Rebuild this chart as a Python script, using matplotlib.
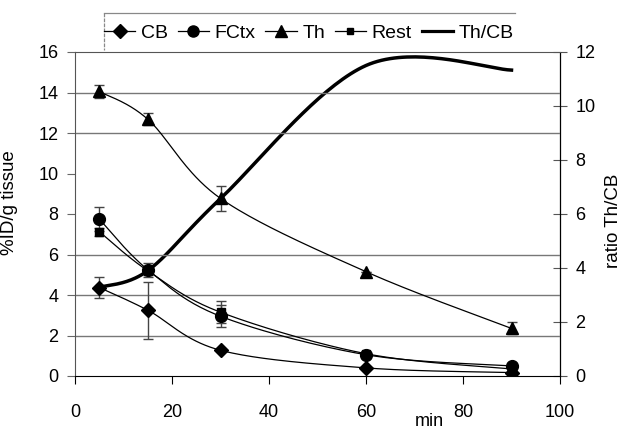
import numpy as np
import matplotlib
matplotlib.use("Agg")
import matplotlib.pyplot as plt
from matplotlib.lines import Line2D

plt.rcParams['font.family'] = ['Liberation Sans', 'DejaVu Sans']

# ---- data ----
minutes = [5, 15, 30, 60, 90]
cb = [4.37, 3.25, 1.27, 0.40, 0.17]
cb_err = [0.5, 1.4, 0.0, 0.0, 0.0]
fctx = [7.75, 5.25, 2.95, 1.05, 0.50]
fctx_err = [0.6, 0.35, 0.55, 0.0, 0.0]
th = [14.05, 12.68, 8.77, 5.15, 2.35]
th_err = [0.3, 0.3, 0.6, 0.0, 0.3]
rest = [7.13, 5.20, 3.15, 1.10, 0.35]
rest_err = [0.2, 0.2, 0.55, 0.0, 0.0]
ratio = [3.28, 3.90, 6.57, 11.50, 11.33]

series_names = ['CB', 'FCtx', 'Th', 'Rest', 'Th/CB']
x_ticks = [0, 20, 40, 60, 80, 100]
y_ticks = [0, 2, 4, 6, 8, 10, 12, 14, 16]
y2_ticks = [0, 2, 4, 6, 8, 10, 12]


def smooth(xs, ys, n=40):
    """Excel-style smoothed line (Catmull-Rom Bezier, factor 1/6)."""
    P = np.column_stack([xs, ys]).astype(float)
    m = len(P)
    out = []
    for i in range(m - 1):
        p0 = P[i - 1] if i > 0 else P[i]
        p1 = P[i]
        p2 = P[i + 1]
        p3 = P[i + 2] if i + 2 < m else P[i + 1]
        c1 = p1 + (p2 - p0) / 6.0
        c2 = p2 - (p3 - p1) / 6.0
        t = np.linspace(0, 1, n)[:, None]
        seg = ((1 - t) ** 3) * p1 + 3 * ((1 - t) ** 2) * t * c1 + 3 * (1 - t) * t ** 2 * c2 + t ** 3 * p2
        out.append(seg if i == 0 else seg[1:])
    out = np.vstack(out)
    return out[:, 0], out[:, 1]


W, H = 623, 432
fig = plt.figure(figsize=(W / 100, H / 100), dpi=100)
L, R, T, B = 75, 560, 52, 376
ax = fig.add_axes([L / W, 1 - B / H, (R - L) / W, (B - T) / H])
ax2 = ax.twinx()

lw = 0.9
ecol = '#444444'
specs = [
    (cb, cb_err, 'D', 7.5),
    (fctx, fctx_err, 'o', 8.5),
    (th, th_err, '^', 8.5),
    (rest, rest_err, 's', 5.5),
]
for ys, err, mk, ms in specs:
    sx, sy = smooth(minutes, ys)
    ax.plot(sx, sy, color='black', lw=lw, zorder=3)
    ax.errorbar(minutes, ys, yerr=err, fmt='none', ecolor=ecol, elinewidth=1.0,
                capsize=3.5, capthick=1.0, zorder=4)
    ax.plot(minutes, ys, linestyle='none', marker=mk, ms=ms, color='black', zorder=5)

rx, ry = smooth(minutes, ratio)
ax2.plot(rx, ry, color='black', lw=2.5, zorder=6)

# axes limits and ticks
ax.set_xlim(0, 100)
ax.set_ylim(0, 16)
ax2.set_ylim(0, 12)
ax.set_xticks(x_ticks)
ax.set_yticks(y_ticks)
ax2.set_yticks(y2_ticks)
ax.tick_params(axis='x', direction='out', length=6, width=0.8, pad=14, labelsize=13)
ax.tick_params(axis='y', direction='out', length=6, width=0.8, color='#666666', pad=6, labelsize=13)
ax2.tick_params(axis='y', direction='inout', length=10, width=0.8, color='#555555', pad=6, labelsize=13)

# gridlines (the picture shows them at 2,4,6,12,14)
for v in y_ticks:
    if v in (2, 4, 6, 12, 14):
        ax.axhline(v, color='#777777', lw=1.0, zorder=1)

ax.set_zorder(ax2.get_zorder() + 1)
ax.patch.set_visible(False)

for s in ['left', 'top']:
    ax.spines[s].set_color('#555555')
ax.spines['bottom'].set_color('black')
ax.spines['right'].set_visible(False)
for s in ['left', 'top', 'bottom']:
    ax2.spines[s].set_visible(False)
ax2.spines['right'].set_color('black')
ax2.spines['right'].set_linestyle((0, (3, 1)))
ax2.spines['right'].set_linewidth(0.9)

ax.set_ylabel('%ID/g tissue', fontsize=13.5)
ax.yaxis.set_label_coords(-0.118, 0.534)
ax2.set_ylabel('ratio Th/CB', fontsize=13.5)
ax2.yaxis.set_label_coords(1.092, 0.48)
ax.set_xlabel('min', fontsize=13)
ax.xaxis.set_label_coords(0.73, -0.115)

# legend
handles = [
    Line2D([], [], color='black', lw=lw, marker='D', ms=7),
    Line2D([], [], color='black', lw=lw, marker='o', ms=8),
    Line2D([], [], color='black', lw=lw, marker='^', ms=8),
    Line2D([], [], color='black', lw=lw, marker='s', ms=5),
    Line2D([], [], color='black', lw=2.3),
]
fig.legend(handles, series_names, loc='center', ncol=5, frameon=False,
           bbox_to_anchor=(309 / W, 1 - 33 / H), fontsize=14,
           handlelength=1.6, handletextpad=0.3, columnspacing=0.5)
fig.add_artist(Line2D([104 / W, 515 / W], [1 - 13 / H, 1 - 13 / H], color='#888888', lw=0.9))
fig.add_artist(Line2D([104 / W, 104 / W], [1 - 13 / H, 1 - 50 / H], color='#888888', lw=0.9,
                      linestyle=(0, (3, 1))))

fig.savefig('out.png', dpi=100)
